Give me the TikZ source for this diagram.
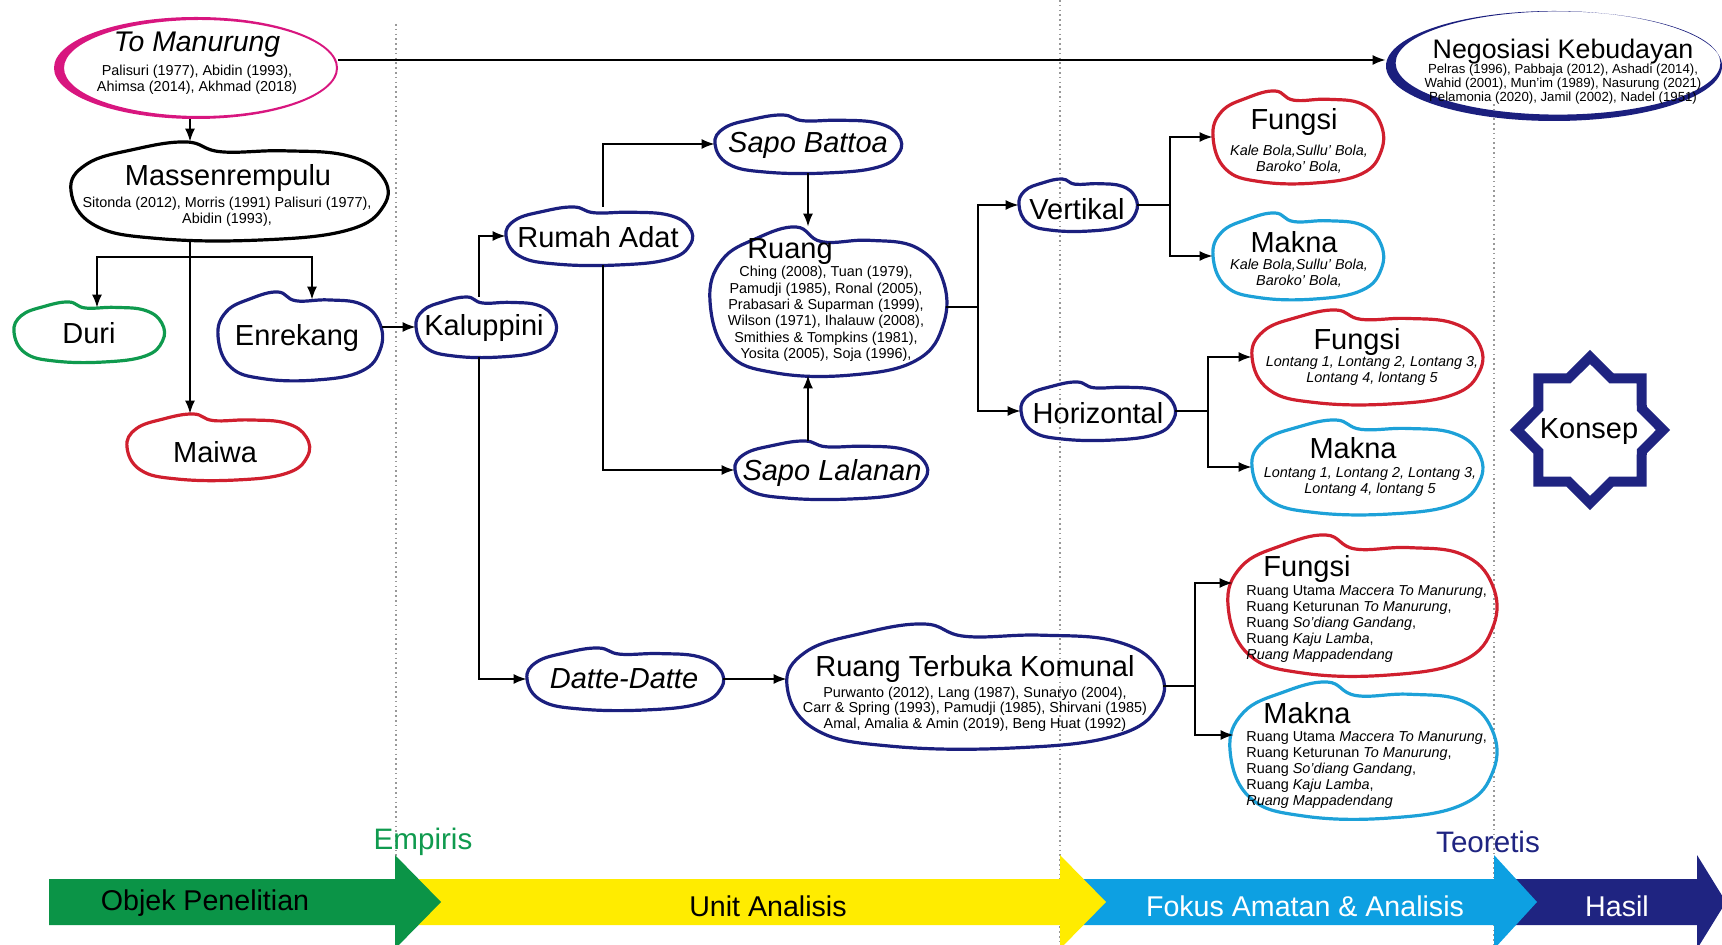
\documentclass[tikz,border=0pt]{standalone}
\usepackage{fontspec}
\setmainfont{Liberation Sans}
\usetikzlibrary{shapes.geometric,arrows.meta,calc}
\definecolor{navy}{HTML}{1B1F7E}
\definecolor{myred}{HTML}{D01F2E}
\definecolor{mycyan}{HTML}{1DA1D8}
\definecolor{mygreen}{HTML}{0F9A4E}
\definecolor{mymag}{HTML}{D8167F}
\definecolor{bgreen}{HTML}{0B9447}
\definecolor{byellow}{HTML}{FFEC00}
\definecolor{bblue}{HTML}{0DA0E2}
\definecolor{bnavy}{HTML}{1F2481}
\tikzset{
 ttl/.style={font=\fontsize{14.5}{17}\selectfont, inner sep=0pt},
 ittl/.style={font=\fontsize{14.5}{17}\selectfont\itshape, inner sep=0pt},
 refs/.style={font=\fontsize{7.2}{8.15}\selectfont, align=center, inner sep=0pt},
 irefs/.style={font=\fontsize{7.2}{8.15}\selectfont\itshape, align=center, inner sep=0pt},
 lrefs/.style={font=\fontsize{7.2}{8.1}\selectfont, align=left, inner sep=0pt},
 arr/.style={-{Latex[length=6.5pt,width=5pt]}, line width=0.9pt},
 ln/.style={line width=0.9pt},
 blobline/.style={line width=1.6pt},
 dotl/.style={gray!80, line width=0.6pt, dash pattern=on 0.8pt off 1.6pt},
 band/.style={font=\fontsize{14.3}{17}\selectfont, inner sep=0pt}
}
\newcommand\blob[6]{%
  \node[ellipse, inner sep=0pt, minimum width=#5pt, minimum height=#6pt] (#1) at (#3,#4) {};
  \begin{scope}[shift={(#3,#4)}, xscale=#5, yscale=#6]
    \draw[#2, blobline] plot[smooth cycle, tension=0.7] coordinates {(-1.0,0.0) (-0.9,-0.55) (-0.6,-0.85) (-0.27,-1.0) (-0.05,-0.8) (0.35,-0.82) (0.75,-0.72) (0.97,-0.3) (0.98,0.3) (0.75,0.8) (0.2,1.0) (-0.45,0.97) (-0.85,0.7)};
  \end{scope}}
\begin{document}
\begin{tikzpicture}[x=0.5pt,y=-0.5pt]
\useasboundingbox (0,0) rectangle (1722,945);
\clip (0,0) rectangle (1722,945);
% dotted separators
\draw[dotl] (396,24) -- (396,945);
\draw[dotl] (1060,0) -- (1060,945);
\draw[dotl] (1494,104) -- (1494,945);

% ellipses
\node[ellipse, inner sep=0pt, minimum width=142pt, minimum height=51pt] (tm) at (196,68) {};
\fill[mymag, even odd rule] (196,68) ellipse [x radius=71pt, y radius=25.5pt] (200,68) ellipse [x radius=68pt, y radius=24pt];
\node[ellipse, inner sep=0pt, minimum width=168pt, minimum height=55pt] (neg) at (1554,66) {};
\fill[navy, even odd rule] (1554,66) ellipse [x radius=84pt, y radius=27.5pt] (1558,63) ellipse [x radius=81.2pt, y radius=25.8pt];

% blobs
\blob{mass}{black}{229}{191}{158}{49}
\blob{duri}{mygreen}{89}{332}{75}{30}
\blob{enr}{navy}{300}{336}{82}{44}
\blob{maiwa}{myred}{218}{447}{91}{33}
\blob{kal}{navy}{486}{327}{70}{30}
\blob{ra}{navy}{599}{236}{93}{29}
\blob{sb}{navy}{808}{144}{93}{29}
\blob{sl}{navy}{831}{470}{96}{29}
\blob{ruang}{navy}{828}{301}{118}{74}
\blob{vert}{navy}{1078}{205}{59}{26}
\blob{hor}{navy}{1098}{411}{77}{29}
\blob{fa}{myred}{1298}{137}{85}{46}
\blob{ma}{mycyan}{1298}{256}{85}{43}
\blob{fb}{myred}{1367}{357}{115}{47}
\blob{mb}{mycyan}{1367}{467}{115}{47}
\blob{fc}{myred}{1362}{605}{134}{70}
\blob{mc}{mycyan}{1363}{750}{133}{68}
\blob{dd}{navy}{625}{679}{98}{31}
\blob{rtk}{navy}{975}{686}{188}{62}

% star
\draw[bnavy, line width=5pt, line join=miter] plot[samples at={0,22.5,...,337.5}, variable=\a] ({1590+(64.5+8.5*cos(8*\a))*cos(\a)}, {430+(64.5+8.5*cos(8*\a))*sin(\a)}) -- cycle;
\node[ttl] (konT) at (1589,432) {Konsep};

% connectors
\coordinate (xm) at (190,0);
\draw[arr] ([yshift=4pt]tm.east) -- ([yshift=4pt]tm.east -| neg.west);
\draw[arr] (xm |- tm.south) -- (xm |- mass.north);
\draw[arr] (xm |- mass.south) -- (xm |- maiwa.north);
\coordinate (b1) at (190,257);
\draw[arr] (b1) -| ([xshift=4pt,yshift=-3pt]duri.north);
\draw[arr] (b1) -| ([xshift=6pt,yshift=-4pt]enr.north);
\draw[arr] (enr.east |- kal.west) -- (kal.west);
\draw[arr] ([xshift=-3.5pt]kal.north) |- (ra.west);
\draw[arr] ([xshift=-3.5pt]kal.south) |- (dd.west);
\draw[arr] ([xshift=2pt]ra.north) |- (sb.west);
\draw[arr] ([xshift=2pt]ra.south) |- (sl.west);
\draw[arr] (sb.south) -- (sb.south |- ruang.north);
\draw[arr] (sb.south |- sl.north) -- (sb.south |- ruang.south);
\coordinate (j1) at (978,307);
\draw[ln] (j1 -| ruang.east) -- (j1);
\draw[arr] (j1) |- (vert.west);
\draw[arr] (j1) |- (hor.west);
\coordinate (j2) at (1170,0);
\draw[ln] (vert.east) -- (vert.east -| j2);
\draw[arr] (vert.east -| j2) |- (fa.west);
\draw[arr] (vert.east -| j2) |- (ma.west);
\coordinate (j3) at (1208,0);
\draw[ln] (hor.east) -- (hor.east -| j3);
\draw[arr] (hor.east -| j3) |- (fb.west);
\draw[arr] (hor.east -| j3) |- (mb.west);
\draw[arr] (dd.east) -- (dd.east -| rtk.west);
\coordinate (j4) at (1195,0);
\draw[ln] (rtk.east) -- (rtk.east -| j4);
\draw[arr] (rtk.east -| j4) |- ([xshift=2.5pt,yshift=11pt]fc.west);
\draw[arr] (rtk.east -| j4) |- ([xshift=2pt,yshift=7.5pt]mc.west);

% texts
\node[ittl, font=\fontsize{14.2}{17}\selectfont\itshape] (tmT) at (197,45) {To Manurung};
\node[refs] (tmR) at (197,80) {Palisuri (1977), Abidin (1993),\\Ahimsa (2014), Akhmad (2018)};
\node[ttl, font=\fontsize{13.4}{16}\selectfont] (negT) at (1563,52) {Negosiasi Kebudayan};
\node[refs, font=\fontsize{6.6}{7.1}\selectfont] (negR) at (1563,84) {Pelras (1996), Pabbaja (2012), Ashadi (2014),\\Wahid (2001), Mun’im (1989), Nasurung (2021)\\Pelamonia (2020), Jamil (2002), Nadel (1951)};
\node[ttl] (massT) at (228,178) {Massenrempulu};
\node[refs] (massR) at (227,212) {Sitonda (2012), Morris (1991) Palisuri (1977),\\Abidin (1993),};
\node[ttl] (duriT) at (89,333) {Duri};
\node[ttl] (enrT) at (297,338) {Enrekang};
\node[ttl] (maiwaT) at (215,452) {Maiwa};
\node[ttl] (kalT) at (484,328) {Kaluppini};
\node[ttl] (raT) at (598,237) {Rumah Adat};
\node[ittl] (sbT) at (808,145) {Sapo Battoa};
\node[ittl] (slT) at (832,473) {Sapo Lalanan};
\node[ttl] (ruangT) at (790,252) {Ruang};
\node[refs] (ruangR) at (826,314) {Ching (2008), Tuan (1979),\\Pamudji (1985), Ronal (2005),\\Prabasari \& Suparman (1999),\\Wilson (1971), Ihalauw (2008),\\Smithies \& Tompkins (1981),\\Yosita (2005), Soja (1996),};
\node[ttl] (vertT) at (1077,209) {Vertikal};
\node[ttl] (horT) at (1098,413) {Horizontal};
\node[ttl] (faT) at (1294,122) {Fungsi};
\node[irefs] (faR) at (1299,159) {Kale Bola,Sullu’ Bola,\\Baroko’ Bola,};
\node[ttl] (maT) at (1294,242) {Makna};
\node[irefs] (maR) at (1299,273) {Kale Bola,Sullu’ Bola,\\Baroko’ Bola,};
\node[ttl] (fbT) at (1357,342) {Fungsi};
\node[irefs] (fbR) at (1372,371) {Lontang 1, Lontang 2, Lontang 3,\\Lontang 4, lontang 5};
\node[ttl] (mbT) at (1353,448) {Makna};
\node[irefs] (mbR) at (1370,482) {Lontang 1, Lontang 2, Lontang 3,\\Lontang 4, lontang 5};
\node[ttl] (fcT) at (1307,569) {Fungsi};
\node[lrefs, anchor=west] (fcR) at (1246,624) {Ruang Utama \textit{Maccera To Manurung},\\Ruang Keturunan \textit{To Manurung},\\Ruang \textit{So’diang Gandang},\\Ruang \textit{Kaju Lamba},\\\textit{Ruang Mappadendang}};
\node[ttl] (mcT) at (1307,713) {Makna};
\node[lrefs, anchor=west] (mcR) at (1246,770) {Ruang Utama \textit{Maccera To Manurung},\\Ruang Keturunan \textit{To Manurung},\\Ruang \textit{So’diang Gandang},\\Ruang \textit{Kaju Lamba},\\\textit{Ruang Mappadendang}};
\node[ittl] (ddT) at (624,679) {Datte-Datte};
\node[ttl] (rtkT) at (975,669) {Ruang Terbuka Komunal};
\node[refs, font=\fontsize{7.2}{7.7}\selectfont] (rtkR) at (975,709) {Purwanto (2012), Lang (1987), Sunaryo (2004),\\Carr \& Spring (1993), Pamudji (1985), Shirvani (1985)\\Amal, Amalia \& Amin (2019), Beng Huat (1992)};

% bottom band
\fill[bnavy] (1494,879) -- (1697,879) -- (1697,855) -- (1726,902) -- (1697,949) -- (1697,925) -- (1494,925) -- cycle;
\fill[bblue] (1060,879) -- (1494,879) -- (1494,855) -- (1537,902) -- (1494,949) -- (1494,925) -- (1060,925) -- cycle;
\fill[byellow] (395,879) -- (1060,879) -- (1060,855) -- (1106,902) -- (1060,949) -- (1060,925) -- (395,925) -- cycle;
\fill[bgreen] (49,879) -- (395,879) -- (395,855) -- (441,902) -- (395,949) -- (395,925) -- (49,925) -- cycle;
\node[band] (b1T) at (205,903) {Objek Penelitian};
\node[band] (b2T) at (768,906) {Unit Analisis};
\node[band, white] (b3T) at (1305,906) {Fokus Amatan \& Analisis};
\node[band, white] (b4T) at (1617,906) {Hasil};
\node[band, font=\fontsize{14.8}{17}\selectfont, text=mygreen] (empT) at (423,842) {Empiris};
\node[band, font=\fontsize{14.8}{17}\selectfont, text=bnavy] (teoT) at (1488,842) {Teoretis};
\end{tikzpicture}
\end{document}
